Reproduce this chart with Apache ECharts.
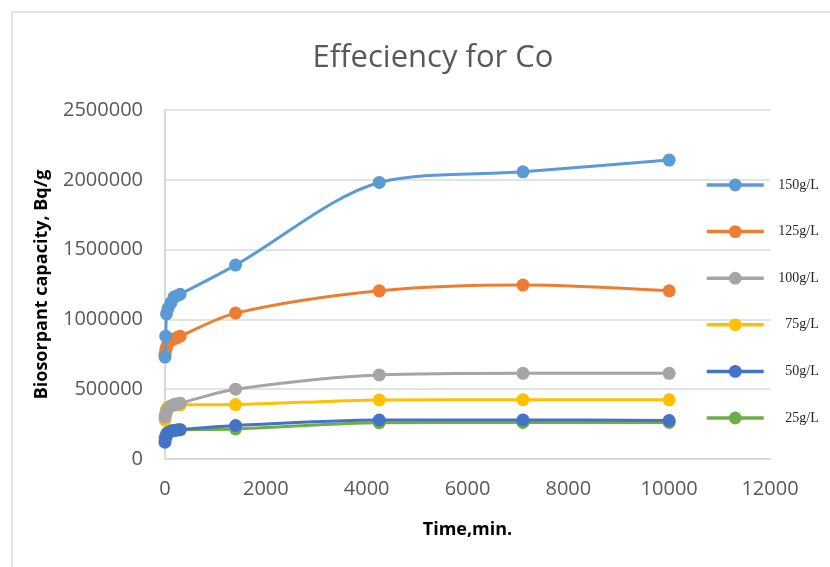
<!DOCTYPE html>
<html>
<head>
<meta charset="utf-8">
<script src="https://cdn.jsdelivr.net/npm/echarts@6/dist/echarts.min.js"></script>
<style>
  html, body { margin: 0; padding: 0; background: #fff; }
  #chart { width: 830px; height: 567px; }
</style>
</head>
<body>
<div id="chart"></div>
<script>
// Sampling times, minutes
const times = [0, 15, 30, 60, 120, 180, 240, 300, 1400, 4250, 7100, 10000];

// Biosorbent capacity (Bq/g) per dose
const c150 = [730000, 880000, 1040000, 1080000, 1120000, 1160000, 1170000, 1180000, 1389000, 1981000, 2057000, 2141000];
const c125 = [750000, 780000, 800000, 830000, 850000, 860000, 870000, 880000, 1045000, 1205000, 1246000, 1205000];
const c100 = [300000, 320000, 340000, 360000, 380000, 390000, 395000, 400000, 500000, 602000, 614000, 614000];
const c75  = [280000, 330000, 355000, 370000, 380000, 385000, 387000, 388000, 390000, 423000, 425000, 424000];
const c50  = [120000, 150000, 170000, 190000, 200000, 205000, 208000, 210000, 240000, 279000, 280000, 275000];
const c25  = [150000, 165000, 180000, 190000, 200000, 205000, 208000, 210000, 215000, 260000, 262000, 262000];

const seriesNames = ['150g/L', '125g/L', '100g/L', '75g/L', '50g/L', '25g/L'];
const seriesData = [c150, c125, c100, c75, c50, c25];
const colors = ['#5b9bd5', '#ed7d31', '#a5a5a5', '#ffc000', '#4472c4', '#70ad47'];

const xTicks = [0, 2000, 4000, 6000, 8000, 10000, 12000];
const yTicks = [0, 500000, 1000000, 1500000, 2000000, 2500000];

const chart = echarts.init(document.getElementById('chart'));

const series = seriesNames.map((name, i) => ({
  name: name,
  type: 'line',
  smooth: 0.3,
  data: times.map((t, k) => [t, seriesData[i][k]]),
  symbol: 'circle',
  symbolSize: 13,
  z: 10 - i,
  lineStyle: { width: 3, color: colors[i] },
  itemStyle: { color: colors[i] }
}));

chart.setOption({
  animation: false,
  backgroundColor: '#ffffff',
  title: {
    text: 'Effeciency for Co',
    left: 428,
    top: 38,
    textAlign: 'center',
    textStyle: { fontFamily: 'Open Sans', fontSize: 31, fontWeight: 'normal', color: '#595959' }
  },
  graphic: [
    { type: 'line', shape: { x1: 12, y1: 12, x2: 830, y2: 12 }, style: { stroke: '#e3e3e3', lineWidth: 2 } },
    { type: 'line', shape: { x1: 12, y1: 12, x2: 12, y2: 567 }, style: { stroke: '#e3e3e3', lineWidth: 2 } }
  ],
  legend: {
    orient: 'vertical',
    left: 700,
    top: 173,
    itemWidth: 57,
    itemHeight: 16,
    itemGap: 32.6,
    data: seriesNames,
    lineStyle: { width: 3.5 },
    textStyle: {
      rich: { r: { width: 50, align: 'right', fontFamily: 'Liberation Serif', fontSize: 14, color: '#262626' } }
    },
    formatter: name => '{r|' + name + '}'
  },
  grid: { left: 165, right: 60, top: 110, bottom: 108, containLabel: false },
  xAxis: {
    type: 'value',
    min: xTicks[0],
    max: xTicks[xTicks.length - 1],
    interval: 2000,
    name: 'Time,min.',
    nameLocation: 'middle',
    nameGap: 62,
    nameTextStyle: { fontFamily: 'Open Sans', fontSize: 18, fontWeight: 'bold', color: '#000' },
    axisLine: { show: true, lineStyle: { color: '#d9d9d9', width: 2 } },
    axisTick: { show: false },
    splitLine: { show: false },
    axisLabel: { fontFamily: 'Open Sans', fontSize: 20, color: '#595959', margin: 20, formatter: v => String(v) }
  },
  yAxis: {
    type: 'value',
    min: yTicks[0],
    max: yTicks[yTicks.length - 1],
    interval: 500000,
    name: 'Biosorpant capacity, Bq/g',
    nameLocation: 'middle',
    nameGap: 114,
    nameRotate: 90,
    nameTextStyle: { fontFamily: 'Open Sans', fontSize: 18, fontWeight: 'bold', color: '#000' },
    axisLine: { show: true, lineStyle: { color: '#d9d9d9', width: 2 } },
    axisTick: { show: false },
    splitLine: { show: true, lineStyle: { color: '#e3e3e3', width: 2 } },
    axisLabel: { fontFamily: 'Open Sans', fontSize: 20, color: '#595959', margin: 22, formatter: v => String(v) }
  },
  series: series
});
</script>
</body>
</html>
